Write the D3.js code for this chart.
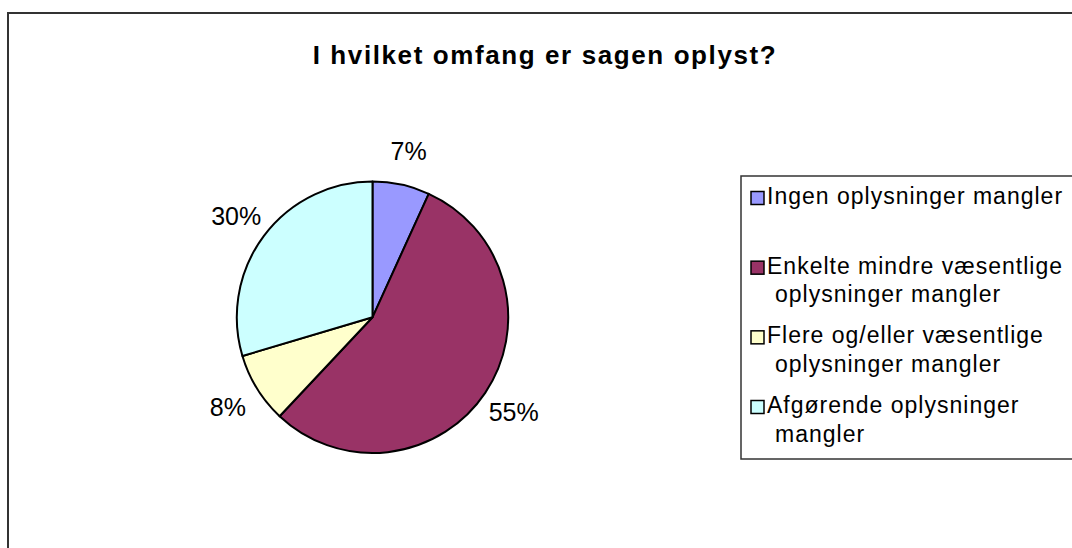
<!DOCTYPE html>
<html>
<head>
<meta charset="utf-8">
<script src="https://cdn.jsdelivr.net/npm/d3@7"></script>
<style>
  html, body { margin: 0; padding: 0; background: #fff; }
  svg { display: block; font-family: Arial, "Liberation Sans", sans-serif; }
</style>
</head>
<body>
<div id="chart"></div>
<script>
const title = "I hvilket omfang er sagen oplyst?";

const categories = [
  "Ingen oplysninger mangler",
  "Enkelte mindre væsentlige oplysninger mangler",
  "Flere og/eller væsentlige oplysninger mangler",
  "Afgørende oplysninger mangler"
];

// legend lines as wrapped in the picture
const legendLines = [
  ["Ingen oplysninger mangler"],
  ["Enkelte mindre væsentlige", "oplysninger mangler"],
  ["Flere og/eller væsentlige", "oplysninger mangler"],
  ["Afgørende oplysninger", "mangler"]
];

// shares in percent
const values = [6.8, 55.2, 8.4, 29.6];

const colors = ["#9999ff", "#993366", "#ffffcc", "#ccffff"];

const width = 1072;
const height = 548;

const center = { x: 372.5, y: 317.3 };
const radius = 135.7;
const labelRadius = 170;

const svg = d3.select("#chart")
  .append("svg")
  .attr("width", width)
  .attr("height", height);

// outer chart frame (runs off right and bottom)
svg.append("rect")
  .attr("x", 8)
  .attr("y", 13)
  .attr("width", width + 20)
  .attr("height", height + 20)
  .attr("fill", "#fff")
  .attr("stroke", "#333")
  .attr("stroke-width", 2);

svg.append("text")
  .attr("x", 545)
  .attr("y", 64)
  .attr("text-anchor", "middle")
  .attr("font-size", 26)
  .attr("font-weight", "bold")
  .attr("letter-spacing", 1.6)
  .text(title);

const data = categories.map((c, i) => ({ name: c, value: values[i] }));
const total = d3.sum(values);

const pie = d3.pie()
  .sort(null)
  .value(d => d.value);

const arc = d3.arc()
  .innerRadius(0)
  .outerRadius(radius);

const labelArc = d3.arc()
  .innerRadius(labelRadius)
  .outerRadius(labelRadius);

const color = d3.scaleOrdinal()
  .domain(categories)
  .range(colors);

const pieG = svg.append("g")
  .attr("transform", `translate(${center.x},${center.y})`);

const arcs = pie(data);

pieG.selectAll("path")
  .data(arcs)
  .join("path")
  .attr("d", arc)
  .attr("fill", d => color(d.data.name))
  .attr("stroke", "#000")
  .attr("stroke-width", 2)
  .attr("stroke-linejoin", "round");

pieG.selectAll("text")
  .data(arcs)
  .join("text")
  .attr("transform", d => `translate(${labelArc.centroid(d)})`)
  .attr("text-anchor", "middle")
  .attr("dy", "0.36em")
  .attr("font-size", 25)
  .attr("fill", "#000")
  .text(d => Math.round(d.data.value / total * 100) + "%");

// legend
const legend = svg.append("g");

legend.append("rect")
  .attr("x", 741)
  .attr("y", 176)
  .attr("width", 360)
  .attr("height", 283)
  .attr("fill", "#fff")
  .attr("stroke", "#333")
  .attr("stroke-width", 1.5);

const ly = d3.scalePoint()
  .domain(categories)
  .range([204, 413]);

const items = legend.selectAll("g.item")
  .data(categories)
  .join("g")
  .attr("class", "item")
  .attr("transform", d => `translate(0,${ly(d)})`);

items.append("rect")
  .attr("x", 751)
  .attr("y", -12.5)
  .attr("width", 13)
  .attr("height", 13)
  .attr("fill", d => color(d))
  .attr("stroke", "#000")
  .attr("stroke-width", 1.5);

items.append("text")
  .attr("font-size", 23)
  .attr("letter-spacing", 1.0)
  .attr("fill", "#000")
  .selectAll("tspan")
  .data((d, i) => legendLines[i])
  .join("tspan")
  .attr("x", (d, i) => i === 0 ? 767 : 775)
  .attr("y", (d, i) => i * 28.5)
  .text(d => d);
</script>
</body>
</html>
